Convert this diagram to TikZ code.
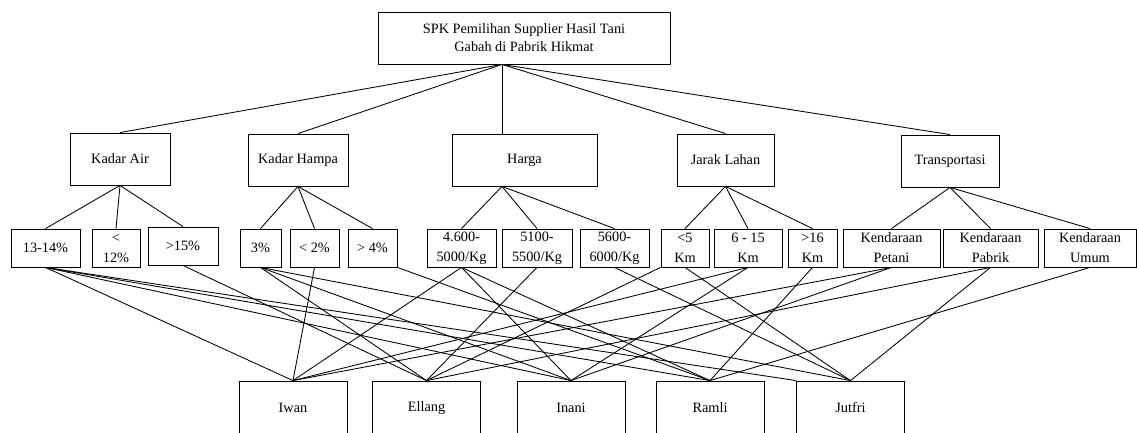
\documentclass[tikz,border=0pt]{standalone}
\usepackage{fontspec}
\setmainfont{Liberation Serif}
\begin{document}
\begin{tikzpicture}[x=0.7pt, y=-0.7pt, line width=0.6pt,
  kotak/.style={draw, align=center, inner sep=1pt, font=\fontsize{10}{14}\selectfont},
  kriteria/.style={kotak, minimum width=70pt, minimum height=36.4pt},
  sub/.style={kotak, minimum height=26.6pt},
  alt/.style={kotak, minimum width=75.6pt, minimum height=37.8pt}]
\useasboundingbox (0,0) rectangle (1137,432);
\node[kotak, minimum width=204.4pt, minimum height=36.4pt, font=\fontsize{10}{12.5}\selectfont] (spk) at (524,38) {SPK Pemilihan Supplier Hasil Tani\\Gabah di Pabrik Hikmat};
% kriteria
\node[kriteria] (air) at (120,159) {Kadar Air};
\node[kriteria] (hampa) at (298,160) {Kadar Hampa};
\node[kriteria, minimum width=101.5pt] (harga) at (524.5,160) {Harga};
\node[kriteria, minimum width=68pt] (jarak) at (725.5,160) {Jarak Lahan};
\node[kriteria, minimum width=68.6pt] (trans) at (950,161) {Transportasi};
% subkriteria
\node[sub, minimum width=48.3pt] (air1) at (45.5,248) {13-14\%};
\node[sub, minimum width=33.6pt] (air2) at (116,248) {<\\12\%};
\node[sub, minimum width=49pt] (air3) at (183,246) {>15\%};
\node[sub, minimum width=28.7pt] (hampa1) at (260.5,248) {3\%};
\node[sub, minimum width=34.3pt] (hampa2) at (314.5,248) {< 2\%};
\node[sub, minimum width=34.3pt] (hampa3) at (372.5,248) {> 4\%};
\node[sub, minimum width=48.3pt] (harga1) at (461.5,248) {4.600-\\5000/Kg};
\node[sub, minimum width=49pt] (harga2) at (537,248) {5100-\\5500/Kg};
\node[sub, minimum width=48.3pt] (harga3) at (614.5,248) {5600-\\6000/Kg};
\node[sub, minimum width=33.6pt] (jarak1) at (685,248) {<5\\Km};
\node[sub, minimum width=47.6pt] (jarak2) at (748,248) {6 - 15\\Km};
\node[sub, minimum width=34.3pt] (jarak3) at (812.5,248) {>16\\Km};
\node[sub, minimum width=67.9pt] (trans1) at (891.5,248) {Kendaraan\\Petani};
\node[sub, minimum width=66.5pt] (trans2) at (990.5,248) {Kendaraan\\Pabrik};
\node[sub, minimum width=64.4pt] (trans3) at (1090,248) {Kendaraan\\Umum};
% alternatif
\node[alt] (iwan) at (293,408) {Iwan};
\node[alt] (ellang) at (426.5,408) {Ellang};
\node[alt] (inani) at (571,408) {Inani};
\node[alt] (ramli) at (710,408) {Ramli};
\node[alt] (jutfri) at (850.5,408) {Jutfri};
% garis
\coordinate (p) at ([xshift=-15.4pt]spk.south);
\foreach \k in {air, hampa, jarak, trans}
  \draw (p) -- (\k.north);
\draw (p) -- (p |- harga.north);
\foreach \k in {air, hampa, jarak, trans}
  \foreach \i in {1,2,3}
    \draw (\k.south) -- (\k\i.north);
\foreach \i in {1,2,3}
  \draw (p |- harga.south) -- (harga\i.north);
\foreach \s/\a in {air1/iwan, air1/inani, air1/ramli, air3/ellang, hampa1/ellang, hampa1/inani, hampa1/jutfri, hampa2/iwan, harga1/iwan, harga1/inani, harga1/ramli, harga2/ellang, harga3/jutfri, jarak1/jutfri, jarak2/iwan, jarak2/inani, jarak3/ramli, trans1/iwan, trans1/inani, trans2/ellang, trans2/jutfri, trans3/ramli}
  \draw (\s.south) -- (\a.north);
\draw (air1.south) -- (jutfri.north west);
\draw (hampa3.south east) -- (ramli.north);
\draw (jarak1.south west) -- (ellang.north);
\end{tikzpicture}
\end{document}
